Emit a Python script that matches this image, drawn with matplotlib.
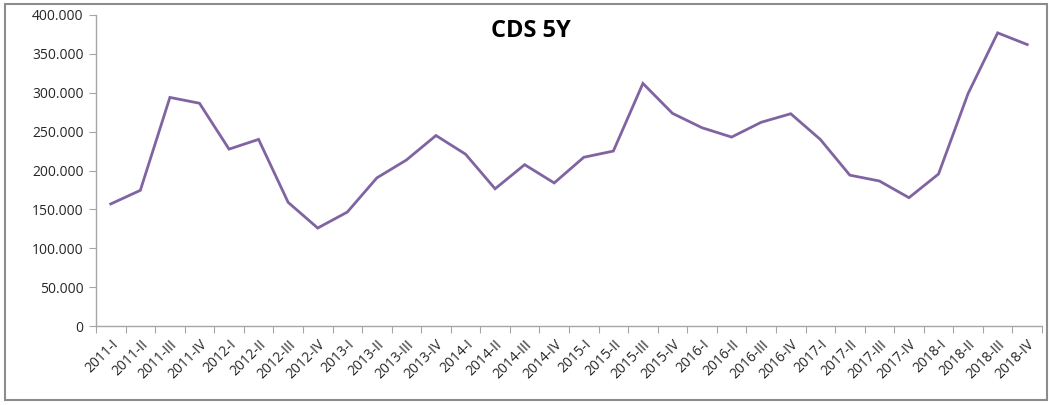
from matplotlib import pyplot as plt
from matplotlib.patches import Rectangle
import numpy as np

PURPLE = '#8064A2'
GRAY = '#A6A6A6'

quarters = ['I', 'II', 'III', 'IV']
years = [2011, 2012, 2013, 2014, 2015, 2016, 2017, 2018]
labels = ['%d-%s' % (y, q) for y in years for q in quarters]
cds_5y = [157, 174.5, 294, 286.5, 227.5, 240, 159, 126,
          146.5, 190.5, 213.5, 245, 221, 176.5, 207.5, 184,
          217, 225, 312, 273.5, 255, 243, 262, 273,
          240, 194, 186.5, 165, 195.5, 299, 377, 362]

plt.rcParams['font.family'] = ['Open Sans', 'DejaVu Sans']

fig = plt.figure(figsize=(10.51, 4.05), dpi=100)
ax = fig.add_axes([96/1051, 79/405, 946/1051, 311/405])

x = np.arange(len(labels))
ax.plot(x, cds_5y, color=PURPLE, linewidth=2.0, solid_joinstyle='miter')

ax.set_xlim(-0.5, len(labels) - 0.5)
ax.set_ylim(0, 400)
ax.set_yticks(np.arange(0, 401, 50))
ax.set_yticklabels(['0' if v == 0 else '%.3f' % v for v in np.arange(0, 401, 50)],
                   fontsize=10, color='#262626')

# tick marks at category boundaries, labels at centres
ax.set_xticks(np.arange(-0.5, len(labels), 1.0))
ax.set_xticklabels([])
ax.set_xticks(x, minor=True)
ax.set_xticklabels(labels, minor=True, rotation=45, ha='right', va='top',
                   rotation_mode='anchor', fontsize=10, color='#262626')
ax.tick_params(axis='x', which='major', length=5, color=GRAY, direction='out')
ax.tick_params(axis='x', which='minor', length=0, pad=8)
ax.tick_params(axis='y', length=5, color=GRAY, direction='out', pad=4)

for s in ['top', 'right']:
    ax.spines[s].set_visible(False)
for s in ['left', 'bottom']:
    ax.spines[s].set_color(GRAY)
    ax.spines[s].set_linewidth(1.0)

fig.text(531/1051, 1 - 31/405, 'CDS 5Y', ha='center', va='center',
         fontsize=17, fontweight='bold')

# outer chart border
fig.patches.append(Rectangle((5/1051, 5/405), 1042/1051, 396/405,
                             transform=fig.transFigure, fill=False,
                             edgecolor='#8C8C8C', linewidth=1.5))

fig.savefig('out.png', dpi=100)
